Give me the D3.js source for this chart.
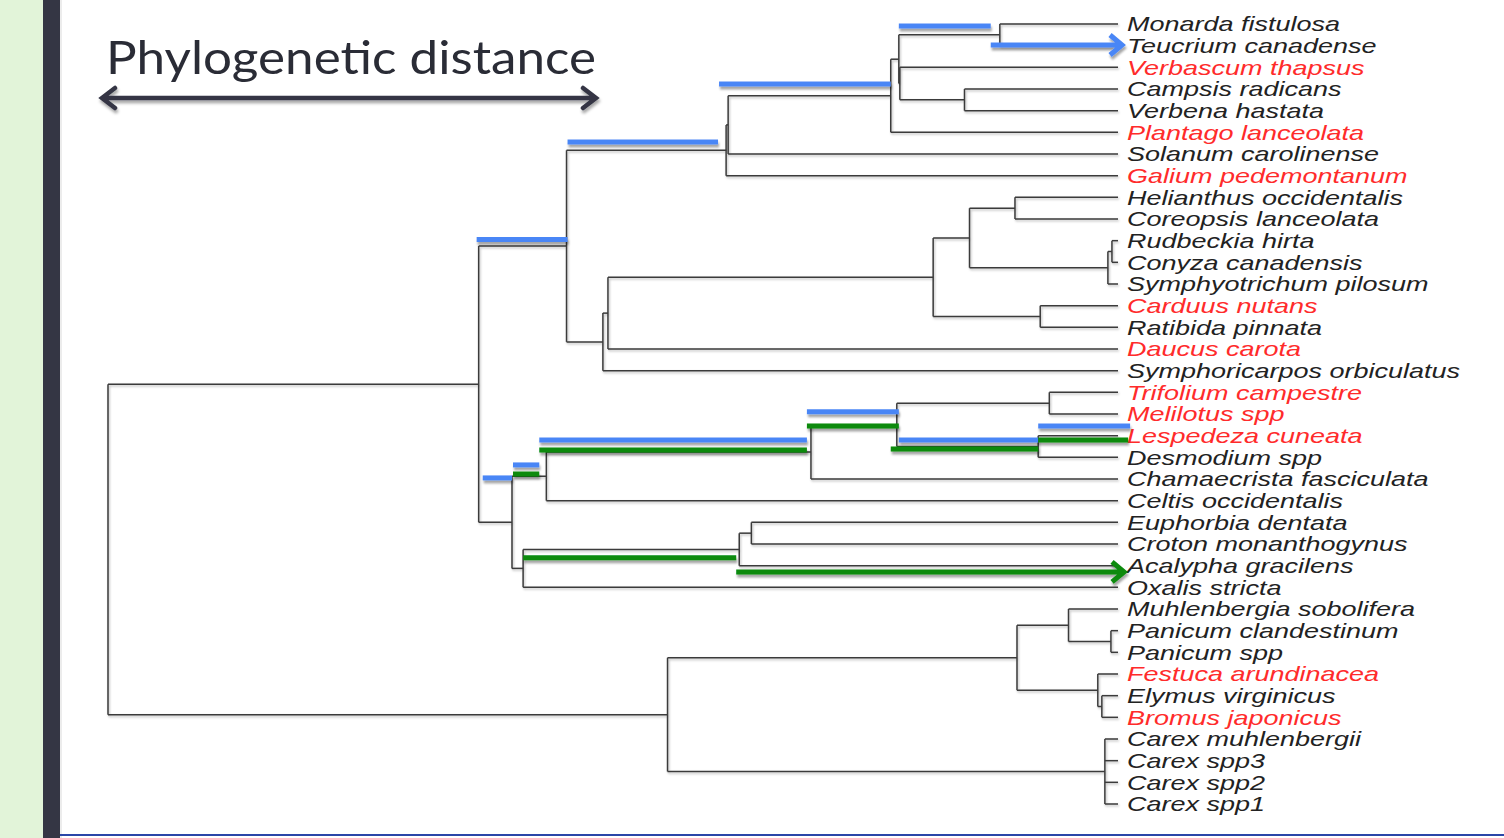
<!DOCTYPE html>
<html>
<head>
<meta charset="utf-8">
<script src="https://cdn.jsdelivr.net/npm/d3@7"></script>
<style>
  html, body { margin: 0; padding: 0; background: #fff; }
  svg { display: block; }
</style>
</head>
<body>
<svg id="chart" width="1504" height="838"></svg>
<script>
// Leaves in plotting order (top to bottom) and the clade each one hangs from
const species = [
  "Monarda fistulosa", "Teucrium canadense", "Verbascum thapsus", "Campsis radicans",
  "Verbena hastata", "Plantago lanceolata", "Solanum carolinense", "Galium pedemontanum",
  "Helianthus occidentalis", "Coreopsis lanceolata", "Rudbeckia hirta", "Conyza canadensis",
  "Symphyotrichum pilosum", "Carduus nutans", "Ratibida pinnata", "Daucus carota",
  "Symphoricarpos orbiculatus", "Trifolium campestre", "Melilotus spp", "Lespedeza cuneata",
  "Desmodium spp", "Chamaecrista fasciculata", "Celtis occidentalis", "Euphorbia dentata",
  "Croton monanthogynus", "Acalypha gracilens", "Oxalis stricta", "Muhlenbergia sobolifera",
  "Panicum clandestinum", "Panicum spp", "Festuca arundinacea", "Elymus virginicus",
  "Bromus japonicus", "Carex muhlenbergii", "Carex spp3", "Carex spp2", "Carex spp1"
];
const speciesParent = [
  "F", "F", "E1", "G",
  "G", "D", "C1", "C0",
  "K", "K", "L1", "L1",
  "L0", "J", "J", "H1",
  "H", "R", "R", "S",
  "S", "O", "N", "U",
  "U", "T", "Q", "X",
  "Z", "Z", "Y0", "Y1",
  "Y1", "Cx", "Cx", "Cx", "Cx"
];

// Species shown in red (introduced)
const introduced = [
  "Verbascum thapsus", "Plantago lanceolata", "Galium pedemontanum", "Carduus nutans",
  "Daucus carota", "Trifolium campestre", "Melilotus spp", "Lespedeza cuneata",
  "Festuca arundinacea", "Bromus japonicus"
];

// Internal clades: id, parent, height (distance from the tips, root = 100)
const cladeIds     = ["root", "A", "B", "C0", "C1", "D", "E0", "E1", "F", "G",
                      "H", "H1", "I", "I1", "K", "L0", "L1", "J",
                      "M", "N", "O", "P", "R", "S", "Q", "T", "U",
                      "V", "W", "X", "Z", "Y0", "Y1", "Cx"];
const cladeParents = ["", "root", "A", "B", "C0", "C1", "D", "E0", "E0", "E1",
                      "B", "H", "H1", "I", "I1", "I1", "L0", "I",
                      "A", "M", "N", "O", "P", "P", "M", "Q", "T",
                      "root", "V", "W", "X", "W", "Y0", "V"];
const cladeHeights = [100, 63.3, 54.6, 38.8, 38.6, 22.5, 21.7, 21.6, 11.7, 15.2,
                      51.0, 50.5, 18.3, 14.7, 10.2, 1.0, 0.6, 7.7,
                      60.0, 56.6, 30.4, 21.9, 6.8, 7.9, 58.9, 37.5, 36.3,
                      44.6, 10.0, 4.9, 0.7, 2.0, 1.6, 1.3];

// Highlighted lineages: [from height, to height, row]
const blueSegments = [
  [63.5, 54.5, 9.95], [54.5, 39.6, 5.45], [39.5, 22.5, 2.77], [21.7, 12.6, 0.09],
  [62.9, 60.0, 20.95], [59.9, 57.3, 20.35], [57.3, 30.8, 19.2], [30.8, 21.7, 17.9],
  [21.7, 7.9, 19.2], [7.9, -1.2, 18.55]
];
const blueArrows = [[12.6, -0.4, 0.97]];
const greenSegments = [
  [59.9, 57.3, 20.77], [57.3, 30.8, 19.66], [30.8, 21.7, 18.55], [22.5, 7.9, 19.61],
  [7.9, -1.0, 19.2], [58.9, 37.8, 24.64]
];
const greenArrows = [[37.8, -0.6, 25.29]];

const titleText = "Phylogenetic distance";

// ---------------------------------------------------------------------------
const svg = d3.select("#chart");
const W = 1504, H = 838;

const defs = svg.append("defs");
const shadow = (id, dy, sd, op) => {
  defs.append("filter").attr("id", id)
    .attr("x", "-5%").attr("y", "-60%").attr("width", "110%").attr("height", "220%")
    .append("feDropShadow")
    .attr("dx", 1).attr("dy", dy).attr("stdDeviation", sd)
    .attr("flood-color", "#000").attr("flood-opacity", op);
};
shadow("treeShadow", 1.5, 1, 0.28);
shadow("barShadow", 3, 1.2, 0.35);
shadow("titleShadow", 3, 1.5, 0.35);

// slide frame
svg.append("rect").attr("x", 0).attr("y", 0).attr("width", W).attr("height", H).attr("fill", "#fff");
svg.append("rect").attr("x", 0).attr("y", 0).attr("width", 43).attr("height", H).attr("fill", "#e2f4d9");
svg.append("rect").attr("x", 43).attr("y", 0).attr("width", 17).attr("height", H).attr("fill", "#343644");
svg.append("rect").attr("x", 60).attr("y", 0).attr("width", 2).attr("height", H).attr("fill", "#ececec");
svg.append("rect").attr("x", 60).attr("y", 834).attr("width", W - 60).attr("height", 2).attr("fill", "#2a46a8");

// Build the hierarchy
const rows = [];
cladeIds.forEach((id, i) => rows.push({ id, parent: cladeParents[i] || null, height: cladeHeights[i] }));
species.forEach((name, i) => rows.push({ id: name, parent: speciesParent[i], height: 0, leafIndex: i }));
const root = d3.stratify().id(d => d.id).parentId(d => d.parent)(rows);

const x = d3.scaleLinear().domain([100, 0]).range([108, 1118]);
const y = d3.scaleLinear().domain([0, species.length - 1]).range([24, 804]);

// y of each node: leaves by row, internal nodes midway between outer children
root.eachAfter(n => {
  if (!n.children) n.ry = n.data.leafIndex;
  else {
    const ys = n.children.map(c => c.ry);
    n.ry = (d3.min(ys) + d3.max(ys)) / 2;
  }
});

const tree = svg.append("g")
  .attr("fill", "none").attr("stroke", "#3b3b3b").attr("stroke-width", 1.5)
  .attr("filter", "url(#treeShadow)");

// horizontal branches
tree.selectAll("line.branch")
  .data(root.descendants().filter(n => n.parent))
  .join("line").attr("class", "branch")
  .attr("x1", n => x(n.parent.data.height)).attr("x2", n => x(n.data.height))
  .attr("y1", n => y(n.ry)).attr("y2", n => y(n.ry));

// stem of root
tree.append("line")
  .attr("x1", x(root.data.height)).attr("x2", x(root.data.height))
  .attr("y1", y(d3.min(root.children, c => c.ry))).attr("y2", y(d3.max(root.children, c => c.ry)));

// vertical connectors
tree.selectAll("line.conn")
  .data(root.descendants().filter(n => n.children && n.parent))
  .join("line").attr("class", "conn")
  .attr("x1", n => x(n.data.height)).attr("x2", n => x(n.data.height))
  .attr("y1", n => y(d3.min(n.children, c => c.ry)))
  .attr("y2", n => y(d3.max(n.children, c => c.ry)));

// tip labels
const labelScaleX = 1.35;
svg.append("g").selectAll("text")
  .data(root.leaves())
  .join("text")
  .attr("transform", n => `translate(${x(0) + 9},${y(n.ry)}) scale(${labelScaleX},1)`)
  .attr("dy", "0.36em")
  .attr("font-family", "'Liberation Sans', Arial, sans-serif")
  .attr("font-style", "italic")
  .attr("font-size", 20)
  .attr("fill", n => introduced.includes(n.id) ? "#ff2b2b" : "#222")
  .text(n => n.id);

// highlighted lineages
const marks = svg.append("g").attr("filter", "url(#barShadow)");
const drawBars = (data, color) => {
  marks.append("g").selectAll("line")
    .data(data).join("line")
    .attr("x1", d => x(d[0])).attr("x2", d => x(d[1]))
    .attr("y1", d => y(d[2])).attr("y2", d => y(d[2]))
    .attr("stroke", color).attr("stroke-width", 5);
};
const drawArrows = (data, color) => {
  marks.append("g").selectAll("path")
    .data(data).join("path")
    .attr("fill", "none").attr("stroke", color).attr("stroke-width", 5)
    .attr("stroke-linejoin", "miter")
    .attr("d", d => {
      const x0 = x(d[0]), x1 = x(d[1]), yy = y(d[2]);
      return `M${x0},${yy}H${x1 - 2}M${x1 - 12},${yy - 10}L${x1},${yy}L${x1 - 12},${yy + 10}`;
    });
};
const blue = "#4a86f6", green = "#088a0a";
drawBars(blueSegments, blue);
drawArrows(blueArrows, blue);
drawBars(greenSegments, green);
drawArrows(greenArrows, green);

// title with a double-headed distance arrow
const title = svg.append("g");
title.append("text")
  .attr("x", 106).attr("y", 74)
  .attr("font-family", "Lato, 'Open Sans', sans-serif")
  .attr("font-size", 47)
  .attr("textLength", 490).attr("lengthAdjust", "spacingAndGlyphs")
  .attr("fill", "#2a2c36")
  .text(titleText);
title.append("path")
  .attr("filter", "url(#titleShadow)")
  .attr("fill", "none").attr("stroke", "#343644").attr("stroke-width", 4.5)
  .attr("stroke-linejoin", "miter").attr("stroke-linecap", "round")
  .attr("d", "M102,98H596M115,88L102,98L115,108M583,88L596,98L583,108");
</script>
</body>
</html>
